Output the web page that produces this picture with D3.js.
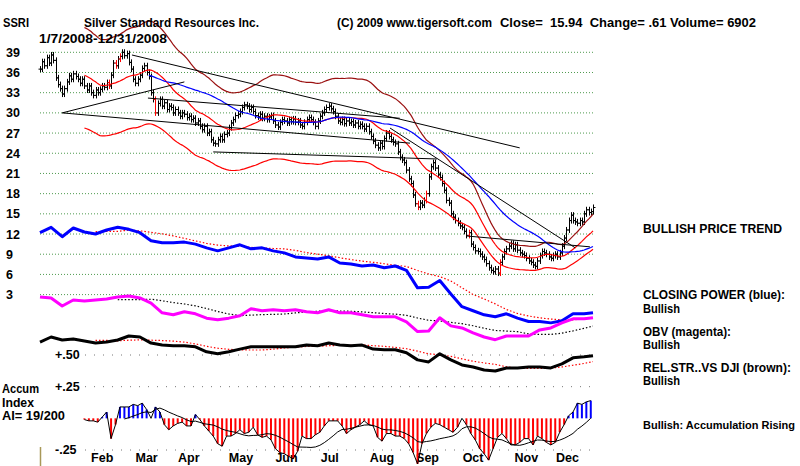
<!DOCTYPE html>
<html>
<head>
<meta charset="utf-8">
<script src="https://cdn.jsdelivr.net/npm/d3@7"></script>
<style>
  body { margin: 0; background: #fff; }
  svg { display: block; }
  text { font-family: "Liberation Sans", Arial, sans-serif; font-weight: bold; fill: #000; }
</style>
</head>
<body>
<script>
const W = 800, H = 466;

// daily closes, 1/7/2008 .. 12/31/2008
const closes = [
  36.5, 37.6, 37.0, 38.2, 37.4, 38.6, 37.8, 35.2, 34.2, 33.6,
  32.8, 33.6, 34.6, 35.5, 35.0, 35.8, 35.4, 35.0, 34.4, 35.0,
  34.0, 33.4, 34.0, 33.0, 32.6, 33.4, 33.0, 33.5, 34.0, 33.8,
  34.5, 34.0, 35.6, 37.4, 37.0, 38.0, 38.4, 39.0, 38.5, 38.8,
  37.5, 36.5, 35.0, 34.4, 35.0, 35.6, 36.6, 37.0, 36.0, 35.4,
  33.0, 32.0, 30.0, 31.4, 32.0, 31.0, 31.5, 30.5, 31.0, 30.8,
  30.0, 30.5, 30.0, 29.5, 30.0, 29.8, 29.3, 29.5, 29.0, 29.2,
  28.5, 28.8, 28.0, 27.5, 28.0, 27.0, 27.2, 26.0, 25.5, 25.4,
  26.0, 26.5, 26.0, 26.8, 27.0, 27.8, 28.5, 29.0, 29.6, 29.8,
  30.2, 30.8, 31.2, 31.0, 30.5, 30.8, 30.2, 29.6, 29.4, 29.8,
  29.2, 29.5, 29.0, 29.4, 29.6, 28.8, 28.2, 27.9, 28.6, 29.0,
  28.8, 28.5, 29.0, 28.7, 29.1, 28.6, 28.8, 28.2, 28.0, 28.6,
  29.0, 29.3, 29.0, 28.6, 28.0, 28.8, 29.5, 30.0, 30.5, 30.8,
  31.0, 30.6, 30.2, 29.5, 28.8, 28.6, 29.0, 28.4, 28.8, 28.5,
  28.7, 28.2, 28.5, 28.0, 28.3, 28.0, 27.6, 28.0, 27.2, 26.5,
  25.8, 25.2, 24.8, 25.5, 25.0, 26.2, 27.0, 26.5, 26.0, 25.6,
  25.4, 24.2, 23.4, 23.0, 22.6, 21.5, 20.2, 19.5, 17.8, 16.5,
  16.0, 16.6, 16.3, 17.0, 18.0, 20.5, 22.0, 22.6, 21.8, 20.8,
  20.4, 19.5, 18.5, 17.0, 16.6, 15.0, 14.5, 14.0, 13.6, 13.2,
  13.0, 12.4, 11.8, 12.2, 10.5, 10.0, 9.5, 9.4, 9.0, 8.6,
  8.2, 7.6, 7.0, 6.6, 6.4, 6.8, 6.2, 7.8, 8.6, 9.4,
  9.8, 10.2, 10.6, 9.8, 10.4, 9.6, 9.2, 9.0, 8.8, 8.4,
  8.0, 7.8, 7.4, 7.2, 8.0, 8.8, 9.4, 9.2, 9.0, 8.6,
  8.4, 8.8, 9.0, 8.6, 9.2, 10.2, 11.4, 12.6, 14.0, 14.8,
  14.0, 13.8, 13.6, 14.0, 13.8, 15.0, 15.6, 15.2, 15.33, 15.94
];
const redBars = [31, 34, 36, 52, 170, 174, 193, 207];

const priceTicks = [39, 36, 33, 30, 27, 24, 21, 18, 15, 12, 9, 6, 3];
const months = ['Feb', 'Mar', 'Apr', 'May', 'Jun', 'Jul', 'Aug', 'Sep', 'Oct', 'Nov', 'Dec'];
const monthDay = [28, 48, 67, 90.5, 111, 130.5, 154, 174.5, 195, 219, 237.5];

// trend lines: [day0, price0, day1, price1]
const trendLines = [
  [10, 30.0, 65, 34.6],
  [41.4, 38.6, 216, 24.8],
  [10, 30.0, 166.6, 25.5],
  [48.6, 32.2, 162, 29.2],
  [78, 24.2, 178.7, 23.15],
  [157.6, 27.75, 241, 9.95],
  [192.3, 11.7, 247.6, 10.1]
];

// indicators sampled every 5 trading days, plotted on the price scale
const cpVals = [12.2, 13.0, 11.6, 12.9, 12.3, 12.0, 12.6, 13.0, 12.7, 12.2,
  11.0, 10.7, 10.7, 10.8, 10.5, 9.95, 9.5, 9.95, 10.4, 9.8,
  9.95, 9.5, 9.2, 8.6, 8.45, 8.3, 8.6, 7.7, 7.55, 7.25,
  7.4, 7.0, 7.25, 6.6, 4.0, 4.1, 5.1, 3.1, 1.2, 0.6,
  0.0, -0.3, 0.15, -0.5, -1.0, -1.0, -1.2, -0.9, 0.15, 0.15, 0.3];
const obvVals = [2.65, 2.5, 1.3, 2.2, 2.05, 2.2, 2.35, 2.65, 2.8, 2.5,
  1.75, 0.3, 0.0, 0.45, 0.15, -0.5, -0.75, -0.5, -0.15, 0.9,
  0.6, 0.75, 0.6, 0.75, 0.45, 0.3, 0.75, 0.3, 0.3, 0.0,
  -0.3, -0.3, -0.3, -1.05, -2.5, -2.4, -0.45, -1.65, -1.95, -2.7,
  -3.3, -3.7, -3.15, -3.15, -3.15, -2.25, -1.95, -1.2, -0.6, -0.6, -0.45];
const rsVals = [-4.05, -3.3, -3.75, -3.6, -3.9, -4.2, -4.05, -3.75, -3.15, -3.3,
  -4.2, -4.5, -4.6, -4.6, -4.75, -5.5, -5.8, -5.5, -5.1, -4.75,
  -4.75, -4.75, -4.75, -4.75, -4.5, -4.6, -4.2, -4.5, -4.6, -4.5,
  -5.1, -5.2, -5.2, -5.65, -6.7, -7.0, -5.8, -6.7, -7.45, -7.75,
  -8.2, -8.35, -7.9, -7.9, -7.75, -7.75, -7.9, -7.3, -6.4, -6.25, -6.1];

// accumulation index, every 2nd day from day 20
const aiVals = [-0.01, -0.02, -0.02, -0.03, 0.01, 0.05, -0.16, -0.05, 0.09, 0.09,
  0.09, 0.11, 0.10, 0.12, 0.07, 0.0, 0.09, 0.05, -0.05, -0.09,
  -0.06, -0.04, -0.03, -0.06, -0.06, 0.03, -0.01, -0.06, -0.10, -0.14,
  -0.20, -0.22, -0.14, -0.14, -0.12, -0.09, -0.12, -0.11, -0.07, -0.13,
  -0.15, -0.14, -0.17, -0.24, -0.27, -0.28, -0.30, -0.32, -0.26, -0.14,
  -0.16, -0.16, -0.13, -0.11, -0.06, -0.02, -0.02, -0.02, -0.06, -0.12,
  -0.09, -0.07, -0.05, -0.02, -0.05, -0.06, -0.15, -0.18, -0.12, -0.12,
  -0.14, -0.14, -0.16, -0.20, -0.27, -0.36, -0.20, -0.12, -0.07, -0.04,
  -0.05, -0.07, -0.09, -0.11, -0.07, 0.0, -0.05, -0.12, -0.17, -0.24,
  -0.28, -0.33, -0.24, -0.15, -0.12, -0.16, -0.21, -0.21, -0.19, -0.16,
  -0.16, -0.21, -0.14, -0.16, -0.19, -0.21, -0.19, -0.11, -0.05, 0.02,
  0.05, 0.12, 0.11, 0.13, 0.14];
const aiTicks = [0.5, 0.25, -0.25];
const aiTickLabels = ['+.50', '+.25', '-.25'];

const lastDay = closes.length - 1;
const x = d3.scaleLinear().domain([0, lastDay]).range([40, 593]);
const y = d3.scaleLinear().domain([3, 39]).range([294.6, 52.3]);
const yA = d3.scaleLinear().domain([-0.25, 0.5]).range([450, 355]);

const sampleDay = (k) => Math.min(k * 5, lastDay);
const aiDay = (k) => 20 + k * 2;

function sma(vals, n) {
  const out = [];
  for (let i = n - 1; i < vals.length; i++) {
    out.push([i, d3.mean(vals.slice(i - n + 1, i + 1))]);
  }
  return out;
}

const svg = d3.select('body').append('svg').attr('width', W).attr('height', H);

// green dotted price grid
svg.append('g').selectAll('line').data(priceTicks).enter().append('line')
  .attr('x1', 40).attr('x2', 593)
  .attr('y1', d => y(d)).attr('y2', d => y(d))
  .attr('stroke', '#4f9a4f').attr('stroke-width', 1).attr('stroke-dasharray', '1,2');

svg.append('g').selectAll('text').data(priceTicks).enter().append('text')
  .attr('x', 6).attr('y', d => y(d) + 4.5)
  .attr('font-size', '12.5px')
  .text(d => d);

// accumulation grid
svg.append('g').selectAll('line').data(aiTicks).enter().append('line')
  .attr('x1', 85).attr('x2', 592)
  .attr('y1', d => yA(d)).attr('y2', d => yA(d))
  .attr('stroke', '#777').attr('stroke-dasharray', '1,8');
svg.append('g').selectAll('text').data(aiTicks).enter().append('text')
  .attr('x', 55).attr('y', (d, i) => yA(d) + 4)
  .attr('font-size', '12.5px')
  .text((d, i) => aiTickLabels[i]);

// OHLC bars
const bars = svg.append('g');
closes.forEach((c, i) => {
  const o = i ? closes[i - 1] : c;
  const hi = Math.max(o, c) + 0.45, lo = Math.min(o, c) - 0.45;
  const col = redBars.includes(i) ? '#ff0000' : '#000';
  const cx = Math.round(x(i)) + 0.5;
  bars.append('line').attr('x1', cx).attr('x2', cx).attr('y1', y(hi)).attr('y2', y(lo)).attr('stroke', col);
  bars.append('line').attr('x1', cx - 2).attr('x2', cx).attr('y1', y(o)).attr('y2', y(o)).attr('stroke', col);
  bars.append('line').attr('x1', cx).attr('x2', cx + 2).attr('y1', y(c)).attr('y2', y(c)).attr('stroke', col);
});

// moving averages and bands
const ma21 = sma(closes, 21);
const ma50 = sma(closes, 50);
const line = d3.line().x(d => x(d[0])).y(d => y(d[1]));

svg.append('path').datum(ma21).attr('d', line).attr('fill', 'none').attr('stroke', '#ff0000').attr('stroke-width', 1.2);
svg.append('path').datum(ma21.map(d => [d[0], d[1] * 0.78])).attr('d', line).attr('fill', 'none').attr('stroke', '#ff0000').attr('stroke-width', 1.2);
svg.append('path').datum(ma21.map(d => [d[0], d[1] * 1.2])).attr('d', line).attr('fill', 'none').attr('stroke', '#9a1010').attr('stroke-width', 1.2);
svg.append('path').datum(ma50).attr('d', line).attr('fill', 'none').attr('stroke', '#0000ff').attr('stroke-width', 1.2);

// trend lines
svg.append('g').selectAll('line').data(trendLines).enter().append('line')
  .attr('x1', d => x(d[0])).attr('y1', d => y(d[1]))
  .attr('x2', d => x(d[2])).attr('y2', d => y(d[3]))
  .attr('stroke', '#000').attr('stroke-width', 1);

// indicator lines
const sline = d3.line().x(d => x(sampleDay(d[0]))).y(d => y(d[1]));
function indicator(vals, color, maN, maColor) {
  svg.append('path').datum(sma(vals, maN)).attr('d', sline)
    .attr('fill', 'none').attr('stroke', maColor).attr('stroke-width', 1.2).attr('stroke-dasharray', '1.5,2');
  svg.append('path').datum(vals.map((v, k) => [k, v])).attr('d', sline)
    .attr('fill', 'none').attr('stroke', color).attr('stroke-width', 3).attr('stroke-linejoin', 'round');
}
indicator(cpVals, '#0000ff', 6, '#ff0000');
indicator(obvVals, '#ff00ff', 8, '#000');
indicator(rsVals, '#000', 6, '#ff0000');

// month labels
svg.append('g').selectAll('text').data(months).enter().append('text')
  .attr('x', (d, i) => x(monthDay[i])).attr('y', 462)
  .attr('text-anchor', 'middle').attr('font-size', '12.5px')
  .text(d => d);

// accumulation histogram
svg.append('g').selectAll('line').data(aiVals).enter().append('line')
  .attr('x1', (d, k) => x(aiDay(k))).attr('x2', (d, k) => x(aiDay(k)))
  .attr('y1', yA(0)).attr('y2', d => yA(d))
  .attr('stroke', d => d < 0 ? '#ff0000' : '#0000ff').attr('stroke-width', 2);
const aline = d3.line().x(d => x(aiDay(d[0]))).y(d => yA(d[1]));
svg.append('path').datum(aiVals.map((v, k) => [k, v])).attr('d', aline)
  .attr('fill', 'none').attr('stroke', '#000').attr('stroke-width', 1);
svg.append('path').datum(sma(aiVals, 10)).attr('d', aline)
  .attr('fill', 'none').attr('stroke', '#000').attr('stroke-width', 1);

svg.append('line').attr('x1', 40.5).attr('x2', 40.5).attr('y1', 447).attr('y2', 466)
  .attr('stroke', '#a89858').attr('stroke-width', 1.5);

// header and side texts: [text, x, y, width, font size]
const texts = [
  ['SSRI', 3, 27, 26, 12.5],
  ['Silver Standard Resources Inc.', 84, 27, 175, 12.5],
  ['(C) 2009 www.tigersoft.com', 337, 27, 155, 12.5],
  ['Close=  15.94  Change= .61 Volume= 6902', 500, 27, 256, 12.5],
  ['1/7/2008-12/31/2008', 39, 43, 128, 12.5],
  ['BULLISH PRICE TREND', 643, 233, 139, 12],
  ['CLOSING POWER (blue):', 643, 299, 142, 12],
  ['Bullish', 643, 313, 37, 12],
  ['OBV (magenta):', 643, 336, 88, 12],
  ['Bullish', 643, 349, 37, 12],
  ['REL.STR..VS DJI (brown):', 643, 372, 148, 12],
  ['Bullish', 643, 385, 37, 12],
  ['Bullish: Accumulation Rising', 643, 429, 152, 10.5],
  ['Accum', 2, 393, 37, 12.5],
  ['Index', 2, 407, 32, 12.5],
  ['AI= 19/200', 2, 420, 63, 12.5]
];
svg.append('g').selectAll('text').data(texts).enter().append('text')
  .attr('x', d => d[1]).attr('y', d => d[2])
  .attr('font-size', d => d[4] + 'px')
  .attr('textLength', d => d[3]).attr('lengthAdjust', 'spacingAndGlyphs')
  .style('white-space', 'pre')
  .text(d => d[0]);
</script>
</body>
</html>
